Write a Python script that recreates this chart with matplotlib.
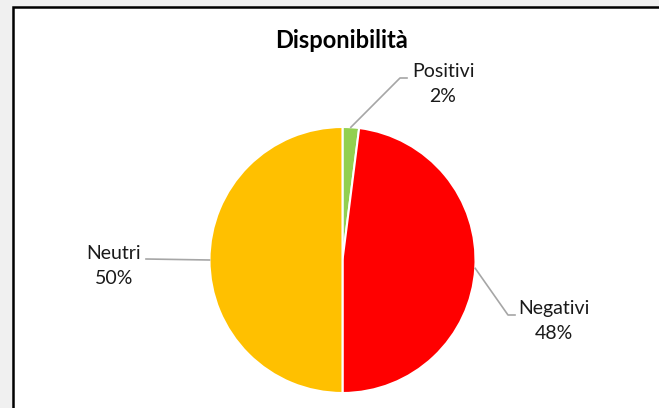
import matplotlib.pyplot as plt
from matplotlib.patches import Rectangle
import numpy as np

labels = ["Positivi", "Negativi", "Neutri"]
values = [2, 48, 50]
colors = ["#92D050", "#FF0000", "#FFC000"]
title = "Disponibilità"

W, H = 659, 408
# pie centre and radius in pixels
cx, cy, r = 342.5, 260, 133

# label centre, elbow and line end of each leader (pixels)
label_pos = [(443, 84), (554, 321), (114, 266)]
elbow_pos = [(400, 78), (508, 315), (146, 259)]
end_pos = [(407, 78), (515, 315), (146, 259)]


def px(x, y):
    return (x - cx) / r, (cy - y) / r


fig = plt.figure(figsize=(W / 100, H / 100), dpi=100)
fig.patch.set_facecolor("#F0F0F0")
frame = Rectangle((13 / W, -0.1), 1.1, 1 - 7 / H + 0.1,
                  transform=fig.transFigure, facecolor="white",
                  edgecolor="black", linewidth=1.8, zorder=-5)
fig.patches.append(frame)

ax = fig.add_axes([(cx - r) / W, (H - cy - r) / H, 2 * r / W, 2 * r / H])
ax.set_zorder(2)
ax.patch.set_visible(False)
wedges, _ = ax.pie(values, colors=colors, startangle=90, counterclock=False,
                   radius=1, wedgeprops=dict(edgecolor="white", linewidth=1.5))
ax.set_xlim(-1, 1)
ax.set_ylim(-1, 1)
ax.axis("off")

for w, lab, v, lp, ep, np_ in zip(wedges, labels, values, label_pos, elbow_pos, end_pos):
    ang = np.deg2rad((w.theta1 + w.theta2) / 2)
    a0 = (np.cos(ang), np.sin(ang))
    e = px(*ep)
    n = px(*np_)
    ax.plot([a0[0], e[0], n[0]], [a0[1], e[1], n[1]], color="#A6A6A6",
            lw=1.2, clip_on=False)
    tx, ty = px(*lp)
    ax.text(tx, ty, f"{lab}\n{v}%", ha="center", va="center", fontsize=14,
            family="Lato", color="#1a1a1a", linespacing=1.55)

fig.text(341.5 / W, 1 - 40 / H, title, ha="center", va="center",
         fontsize=17, fontweight="bold", family="Lato", color="black")

fig.savefig("out.png", dpi=100, facecolor=fig.get_facecolor())
